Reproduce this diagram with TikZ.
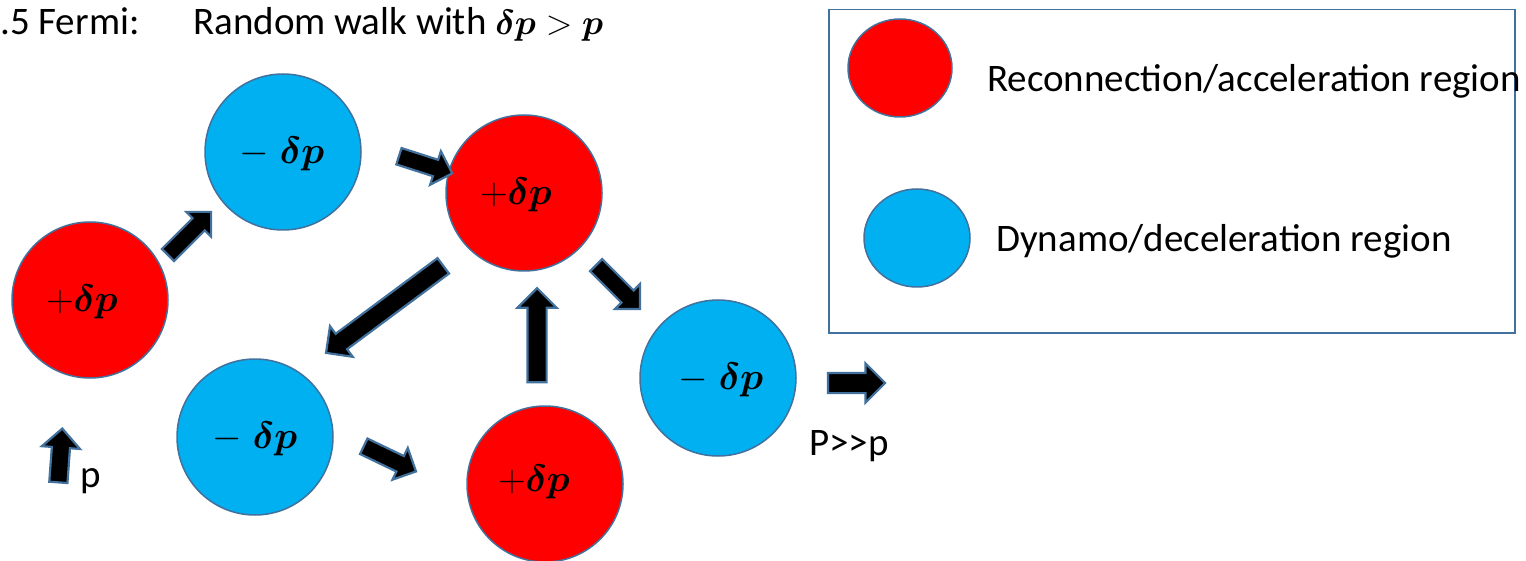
\RequirePackage{fix-cm}
\documentclass[tikz,border=0pt]{standalone}
\usepackage{fontspec}
\usepackage{amsmath}
\usepackage{bm}
\setmainfont{Carlito}
\usetikzlibrary{shapes.arrows,shapes.geometric}
\definecolor{edgeblue}{HTML}{41719C}
\definecolor{regred}{HTML}{FF0000}
\definecolor{regblue}{HTML}{00B0F0}
\begin{document}
\begin{tikzpicture}[x=1pt,y=-1pt,
  region/.style={circle, draw=edgeblue, line width=1.5pt, minimum size=156pt, inner sep=0pt},
  acc/.style={region, fill=regred},
  dec/.style={region, fill=regblue},
  mlbl/.style={font=\fontsize{38}{44}\selectfont, inner sep=0pt},
  blockarrow/.style={single arrow, fill=black, draw=edgeblue, line width=2.2pt,
    inner xsep=0pt, inner ysep=7.5pt, single arrow head extend=9pt, single arrow tip angle=90,
    anchor=center},
  lbl/.style={font=\fontsize{39}{46}\selectfont, inner sep=0pt},
  tlbl/.style={font=\fontsize{39}{46}\selectfont, inner sep=0pt}
]
\useasboundingbox (0,0) rectangle (1526,561);

% title
\node[tlbl, anchor=base west] (t1) at (0,35) {.5 Fermi:};
\node[tlbl, anchor=base west] (t2) at (193,35) {Random walk with {\fontsize{35}{42}\selectfont$\bm{\delta p} > \bm{p}$}};

% regions
\node[acc] (r1) at (90,300) {};
\node[dec] (b1) at (283,152) {};
\node[acc] (r2) at (524,193) {};
\node[dec] (b2) at (255,437) {};
\node[acc] (r3) at (545,484) {};
\node[dec] (b3) at (718,378) {};
\node[mlbl] (l1) at (82,302) {$+\bm{\delta p}$};
\node[mlbl] (l2) at (282,154) {$-\;\bm{\delta p}$};
\node[mlbl] (l3) at (516,195) {$+\bm{\delta p}$};
\node[mlbl] (l4) at (255,439) {$-\;\bm{\delta p}$};
\node[mlbl] (l5) at (534,482) {$+\bm{\delta p}$};
\node[mlbl] (l6) at (721,380) {$-\;\bm{\delta p}$};

% block arrows
\node[blockarrow, minimum height=61pt, rotate=45] (a1) at (186.5,236.5) {};
\node[blockarrow, minimum height=56pt, rotate=-17.8] (a2) at (421.5,163.5) {};
\node[blockarrow, minimum height=146pt, inner ysep=8.5pt, single arrow head extend=9.5pt, rotate=216.6] (a3) at (388.5,306.5) {};
\node[blockarrow, minimum height=94pt, inner ysep=8.5pt, single arrow head extend=10pt, rotate=90] (a4) at (537,340) {};
\node[blockarrow, minimum height=62pt, rotate=-45] (a5) at (615,284) {};
\node[blockarrow, minimum height=58pt, rotate=-25.7] (a6) at (386,457) {};
\node[blockarrow, minimum height=54pt, inner ysep=8pt, single arrow head extend=10pt, rotate=85.8] (a7) at (60,460) {};
\node[blockarrow, minimum height=57pt, inner ysep=9pt, single arrow head extend=9.5pt, rotate=0] (a8) at (851.5,383) {};

\node[lbl, anchor=base west] (lp) at (80,487) {p};
\node[lbl, anchor=base west] (lP) at (809,455) {P>\kern0pt>\kern0pt p};

% legend
\node[draw=edgeblue, line width=1.5pt, minimum width=686pt, minimum height=323pt, anchor=north west, inner sep=0pt] (legend) at (828,9) {};
\node[ellipse, draw=edgeblue, line width=1.5pt, fill=regred, minimum width=104pt, minimum height=98pt, inner sep=0pt] (le1) at (900,68) {};
\node[ellipse, draw=edgeblue, line width=1.5pt, fill=regblue, minimum width=106pt, minimum height=98pt, inner sep=0pt] (le2) at (917,238) {};
\node[lbl, anchor=base west] (lt1) at (987,92) {Reconnection/acceleration region};
\node[lbl, anchor=base west] (lt2) at (996,252) {Dynamo/deceleration region};
\end{tikzpicture}
\end{document}
